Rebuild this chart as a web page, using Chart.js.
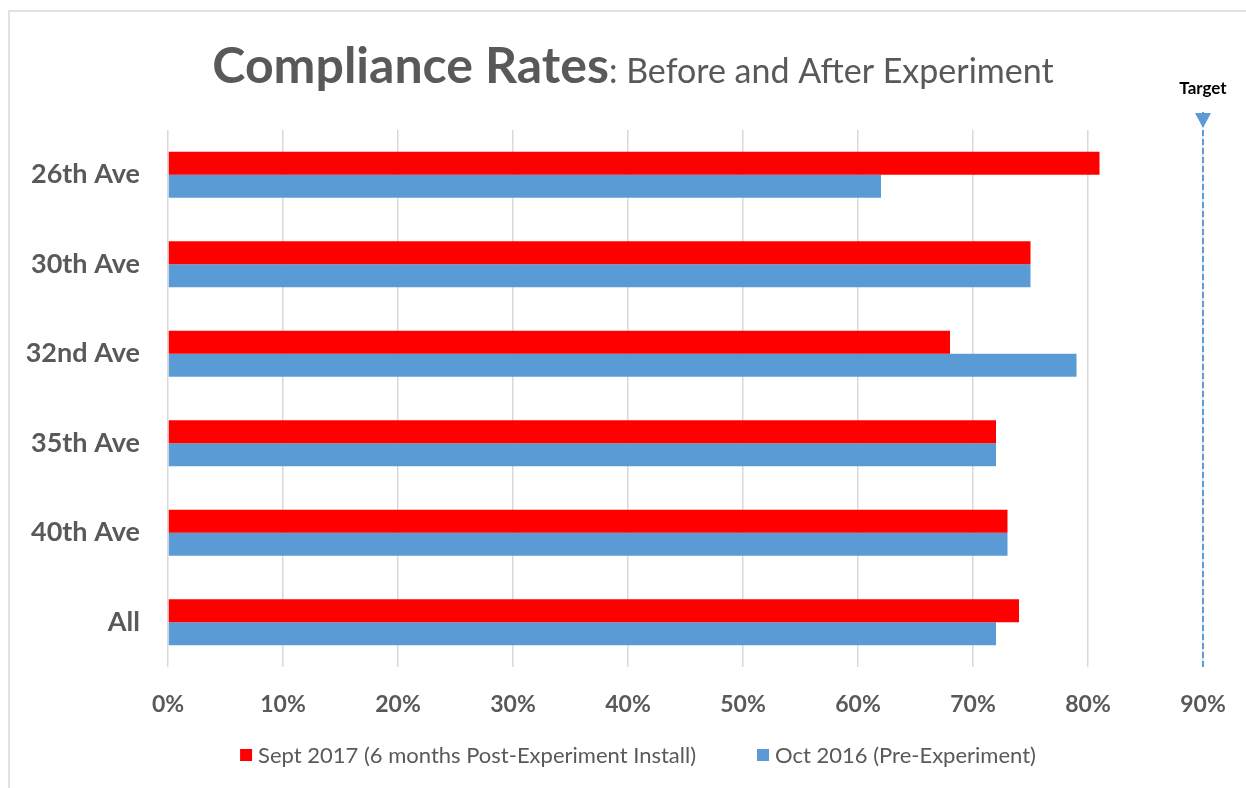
<!DOCTYPE html>
<html>
<head>
<meta charset="utf-8">
<script src="https://cdn.jsdelivr.net/npm/chart.js@4/dist/chart.umd.min.js"></script>
<style>
  html, body { margin: 0; padding: 0; background: #fff; }
  #wrap { width: 1246px; height: 788px; position: relative; }
</style>
</head>
<body>
<div id="wrap"><canvas id="myChart" width="1246" height="788"></canvas></div>
<script>
var categories = ["26th Ave", "30th Ave", "32nd Ave", "35th Ave", "40th Ave", "All"];
var sept2017 = [81, 75, 68, 72, 73, 74];
var oct2016 = [62, 75, 79, 72, 73, 72];
var seriesNames = ["Sept 2017 (6 months Post-Experiment Install)", "Oct 2016 (Pre-Experiment)"];
var seriesColors = ['#ff0000', '#5b9bd5'];
var targetValue = 90;

var grey = '#595959';

// title, frame, legend and the target marker
var extras = {
    id: 'extras',
    beforeDraw: function (chart) {
        var c = chart.ctx;
        c.save();
        c.strokeStyle = '#d9d9d9';
        c.lineWidth = 1.5;
        c.strokeRect(9, 11, 1260, 800);
        c.restore();
    },
    afterDraw: function (chart) {
        var c = chart.ctx;
        c.save();
        // title in two parts
        var boldFont = 'bold 50px Lato';
        var normFont = '34px Lato';
        var t1 = 'Compliance Rates', t2 = ': Before and After Experiment';
        c.font = boldFont;
        var w1 = c.measureText(t1).width;
        c.font = normFont;
        var w2 = c.measureText(t2).width;
        var x0 = 633 - (w1 + w2) / 2;
        c.fillStyle = grey;
        c.textBaseline = 'alphabetic';
        c.font = boldFont;
        c.fillText(t1, x0, 83);
        c.font = normFont;
        c.fillText(t2, x0 + w1, 83);

        // legend
        c.font = '22px Lato';
        c.textBaseline = 'middle';
        var box = 12, gap = 6, itemGap = 61;
        var widths = seriesNames.map(function (s) { return c.measureText(s).width; });
        var total = 0;
        widths.forEach(function (w) { total += box + gap + w; });
        total += itemGap * (seriesNames.length - 1);
        var lx = 638 - total / 2, ly = 755;
        seriesNames.forEach(function (s, i) {
            c.fillStyle = seriesColors[i];
            c.fillRect(lx, ly - box / 2, box, box);
            c.fillStyle = grey;
            c.fillText(s, lx + box + gap, ly + 1);
            lx += box + gap + widths[i] + itemGap;
        });

        // target line
        var x = chart.scales.x.getPixelForValue(targetValue);
        var area = chart.chartArea;
        c.strokeStyle = '#5b9bd5';
        c.lineWidth = 2;
        c.setLineDash([6, 3]);
        c.beginPath();
        c.moveTo(x, 112);
        c.lineTo(x, area.bottom);
        c.stroke();
        c.setLineDash([]);
        c.fillStyle = '#5b9bd5';
        c.beginPath();
        c.moveTo(x - 8, 113);
        c.lineTo(x + 8, 113);
        c.lineTo(x, 128);
        c.closePath();
        c.fill();
        c.fillStyle = '#000';
        c.font = 'bold 17px Lato';
        c.textAlign = 'center';
        c.textBaseline = 'alphabetic';
        c.fillText('Target', x, 94);
        c.restore();
    }
};

var ctx = document.getElementById("myChart").getContext('2d');
var myChart = new Chart(ctx, {
    type: 'bar',
    data: {
        labels: categories,
        datasets: [{
            label: seriesNames[0],
            backgroundColor: seriesColors[0],
            data: sept2017
        }, {
            label: seriesNames[1],
            backgroundColor: seriesColors[1],
            data: oct2016
        }]
    },
    options: {
        indexAxis: 'y',
        responsive: false,
        animation: false,
        categoryPercentage: 0.514,
        barPercentage: 1,
        layout: {
            padding: { top: 130, left: 0, right: 43, bottom: 53 }
        },
        scales: {
            x: {
                min: 0,
                max: 90,
                ticks: {
                    stepSize: 10,
                    padding: 24,
                    color: grey,
                    font: { family: 'Lato', size: 23, weight: 'bold' },
                    callback: function (v) { return v + '%'; }
                },
                grid: { color: '#d9d9d9', lineWidth: 1.5, drawTicks: false },
                border: { display: false },
                afterFit: function (scale) {
                    scale.height = 68;
                    scale.paddingLeft = 0;
                    scale.paddingRight = 0;
                }
            },
            y: {
                ticks: {
                    padding: 28,
                    color: grey,
                    font: { family: 'Lato', size: 27, weight: 'bold' }
                },
                grid: { display: false, drawTicks: false },
                border: { display: false },
                afterFit: function (scale) {
                    scale.width = 168;
                    scale.paddingTop = 0;
                    scale.paddingBottom = 0;
                }
            }
        },
        plugins: {
            legend: { display: false },
            tooltip: { enabled: false }
        }
    },
    plugins: [extras]
});
</script>
</body>
</html>
